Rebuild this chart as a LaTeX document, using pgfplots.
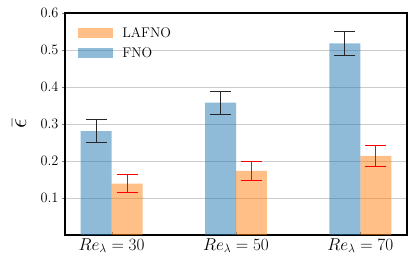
\documentclass[border=0pt]{standalone}
\usepackage{pgfplots}
\pgfplotsset{compat=1.18}
\definecolor{tabblue}{RGB}{31,119,180}
\definecolor{taborange}{RGB}{255,127,14}
\begin{document}
\begin{tikzpicture}
\path[use as bounding box] (0,0) rectangle (415bp,266bp);
\begin{axis}[
  at={(65bp,31bp)}, anchor=south west,
  scale only axis, width=342bp, height=222bp,
  xmin=-0.375, xmax=2.375, ymin=0, ymax=0.6,
  xtick={0,1,2},
  xticklabels={$Re_\lambda=30$,$Re_\lambda=50$,$Re_\lambda=70$},
  ytick={0.1,0.2,0.3,0.4,0.5,0.6},
  yticklabel style={/pgf/number format/fixed,/pgf/number format/precision=1,font=\fontsize{14}{14}\selectfont},
  xticklabel style={font=\fontsize{17}{17}\selectfont},
  tick pos=left,
  xtick align=inside, ytick align=outside,
  major tick length=3bp,
  ymajorgrids, grid style={color=black!20, line width=0.8bp},
  axis line style={line width=1.5bp},
  ylabel={$\bar{\epsilon}$},
  ylabel style={at={(rel axis cs:-0.134,0.5)}, anchor=center, font=\fontsize{26}{26}\selectfont},
  legend style={draw=none, fill=none, at={(rel axis cs:0.03,0.955)}, anchor=north west, font=\fontsize{14}{14}\selectfont, row sep=5bp},
  legend cell align=left,
  legend image code/.code={\fill[#1] (0bp,-5bp) rectangle (35bp,5bp); \path (42bp,0bp);},
]
\addplot[ybar, bar width=31bp, bar shift=0bp, draw=none, fill=taborange, fill opacity=0.5,
  error bars/.cd, y dir=both, y explicit,
  error bar style={color=red, line width=0.9bp},
  error mark options={rotate=90, mark size=10.5bp, line width=0.9bp, color=red}]
  table[x=x, y=y, y error=e] {
x y e
0.124 0.139 0.025
1.124 0.173 0.026
2.124 0.214 0.028
};
\addlegendentry{LAFNO}
\addplot[ybar, bar width=31bp, bar shift=0bp, draw=none, fill=tabblue, fill opacity=0.5,
  error bars/.cd, y dir=both, y explicit,
  error bar style={color=black!85, line width=0.9bp},
  error mark options={rotate=90, mark size=10.5bp, line width=0.9bp, color=black!85}]
  table[x=x, y=y, y error=e] {
x y e
-0.124 0.281 0.032
0.876 0.358 0.031
1.876 0.518 0.033
};
\addlegendentry{FNO}
\end{axis}
\end{tikzpicture}
\end{document}
